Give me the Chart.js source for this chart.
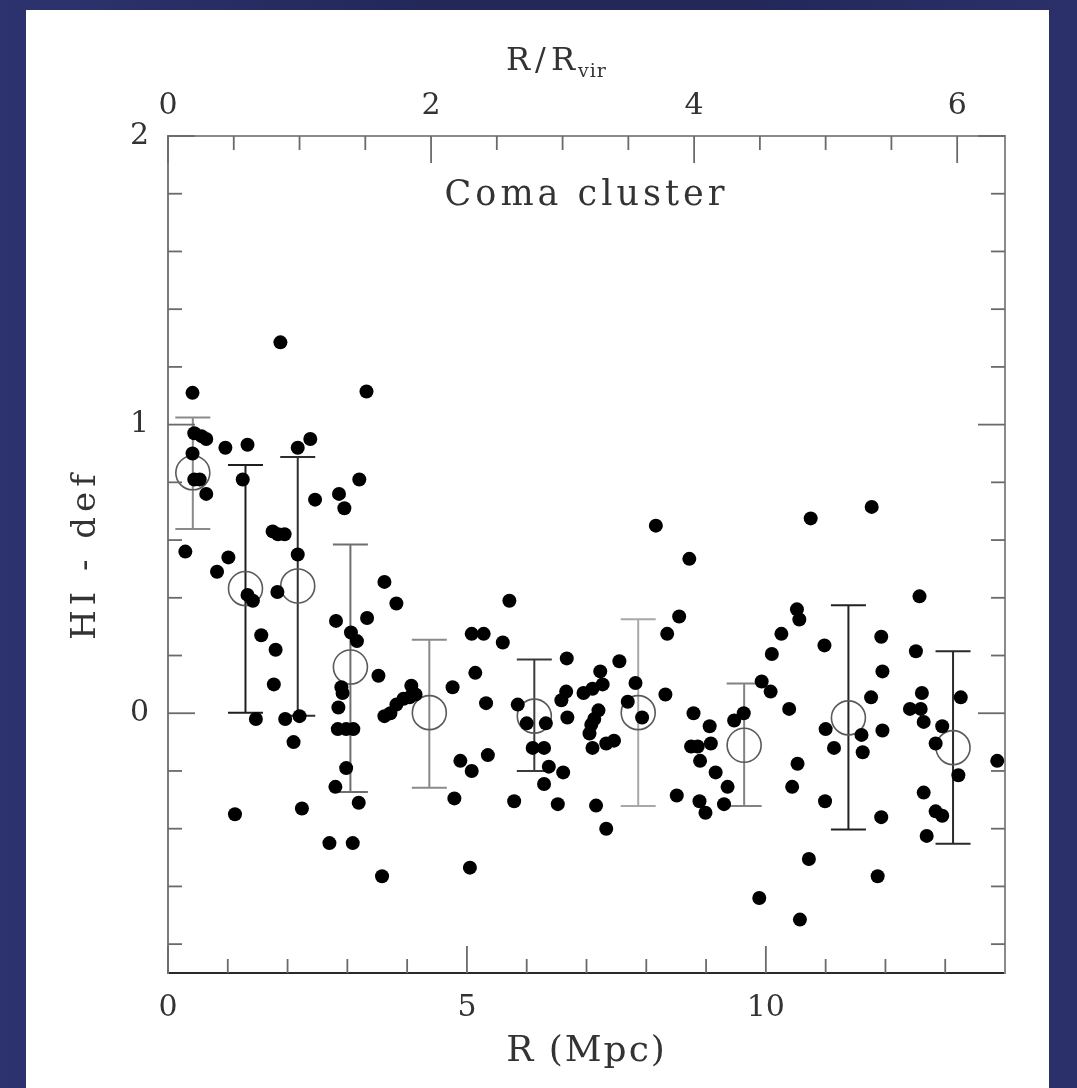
<!DOCTYPE html>
<html>
<head>
<meta charset="utf-8">
<title>Coma cluster HI deficiency</title>
<script src="https://cdn.jsdelivr.net/npm/chart.js@4.4.1/dist/chart.umd.min.js"></script>
<style>
html,body{margin:0;padding:0;width:1077px;height:1088px;overflow:hidden;}
body{background:linear-gradient(90deg,#2d336e 0%,#232859 40%,#232859 70%,#2b306a 100%);}
#panel{position:absolute;left:26px;top:10px;width:1023px;height:1078px;background:#fff;}
#wrap{position:absolute;left:0;top:0;width:1077px;height:1088px;}
</style>
</head>
<body>
<div id="panel"></div>
<div id="wrap"><canvas id="hiChart" width="1077" height="1088"></canvas></div>
<script>

// individual galaxies: projected distance (Mpc) and HI deficiency
const galR = [0.41,0.44,0.56,0.64,0.41,0.44,0.53,0.64,0.29,0.96,
1.33,1.25,1.75,1.84,1.95,1.01,0.82,2.17,1.33,1.42,
1.83,1.56,1.80,1.77,1.47,1.96,2.20,2.10,1.12,2.17,
2.38,2.46,2.86,2.95,3.20,2.81,3.33,3.06,3.16,3.52,
2.90,2.92,2.85,2.84,2.98,3.10,2.98,2.80,3.19,2.70,
3.09,2.24,3.58,3.62,3.82,1.88,3.32,3.62,3.72,3.82,
3.94,4.04,4.14,4.07,4.76,5.14,5.32,4.89,5.08,5.35,
4.79,5.05,5.79,5.85,6.00,6.32,6.10,6.29,6.37,6.29,
6.61,6.52,6.67,6.66,6.58,6.68,7.23,7.55,6.95,7.10,
7.27,7.20,7.13,7.08,7.05,7.10,7.33,7.46,7.16,7.33,
7.69,5.71,5.08,5.28,5.60,8.16,8.72,8.55,8.35,10.75,
10.52,10.56,10.26,10.10,11.77,10.98,11.93,12.57,12.51,7.82,
8.32,7.93,8.79,9.06,8.75,8.86,9.08,8.90,9.16,9.36,
8.51,8.89,8.99,9.30,9.47,9.63,9.93,10.08,10.39,10.53,
10.44,10.72,9.89,10.57,11.95,11.76,11.00,11.60,11.95,11.14,
11.62,10.99,11.93,11.87,12.61,12.41,12.59,12.64,12.95,12.84,
13.26,13.22,12.64,12.84,12.95,12.69,13.87];

const galDef = [1.11,0.97,0.96,0.95,0.90,0.81,0.81,0.76,0.56,0.92,
0.93,0.81,0.63,0.62,0.62,0.54,0.49,0.55,0.41,0.39,
0.42,0.27,0.22,0.10,-0.02,-0.02,-0.01,-0.10,-0.35,0.92,
0.95,0.74,0.76,0.71,0.81,0.32,0.33,0.28,0.25,0.13,
0.09,0.07,0.02,-0.055,-0.055,-0.055,-0.19,-0.255,-0.31,-0.45,
-0.45,-0.33,-0.565,0.455,0.38,1.285,1.115,-0.01,0.00,0.03,
0.05,0.055,0.065,0.095,0.09,0.14,0.035,-0.165,-0.20,-0.145,
-0.295,-0.535,-0.305,0.03,-0.035,-0.035,-0.12,-0.12,-0.185,-0.245,
-0.205,-0.315,0.19,0.075,0.045,-0.015,0.145,0.18,0.07,0.085,
0.10,0.01,-0.02,-0.04,-0.07,-0.12,-0.105,-0.095,-0.32,-0.40,
0.04,0.39,0.275,0.275,0.245,0.65,0.535,0.335,0.275,0.675,
0.36,0.325,0.275,0.205,0.715,0.235,0.265,0.405,0.215,0.105,
0.065,-0.015,0.00,-0.045,-0.115,-0.115,-0.105,-0.165,-0.205,-0.255,
-0.285,-0.305,-0.345,-0.315,-0.025,0.00,0.11,0.075,0.015,-0.175,
-0.255,-0.505,-0.64,-0.715,0.145,0.055,-0.055,-0.075,-0.06,-0.12,
-0.135,-0.305,-0.36,-0.565,0.07,0.015,0.015,-0.03,-0.045,-0.105,
0.055,-0.215,-0.275,-0.34,-0.355,-0.425,-0.165];

// binned means with their spread
const binR    = [0.415,1.296,2.17,3.051,4.371,6.127,7.865,9.637,11.381,13.131];
const binMean = [0.833,0.432,0.441,0.160,0.002,-0.010,0.002,-0.111,-0.016,-0.119];
const binLo   = [0.638,0.002,-0.009,-0.273,-0.258,-0.200,-0.321,-0.321,-0.403,-0.452];
const binHi   = [1.025,0.860,0.888,0.585,0.255,0.186,0.326,0.103,0.374,0.215];

// axes
const RVIR = 2.2;           // Mpc, for the top R/Rvir scale
const xTicks = [0,5,10];
const xMinor = [1,2,3,4,6,7,8,9,11,12,13];
const topTicks = [0,2,4,6];
const topMinor = [0.5,1,1.5,2.5,3,3.5,4.5,5,5.5];
const yTicks = [0,1,2];
const yMinor = [-0.8,-0.6,-0.4,-0.2,0.2,0.4,0.6,0.8,1.2,1.4,1.6,1.8];

const barColors = ['#8a8a8a','#1e1e1e','#2e2e2e','#6e6e6e','#8a8a8a','#3a3a3a','#a8a8a8','#828282','#222222','#2a2a2a'];

const SERIF = "'DejaVu Serif', 'Liberation Serif', serif";
const INK = '#333';

let datasets = [];

datasets.push({
  label:'galaxies',
  data: galR.map((r,i)=>({x:r, y:galDef[i]})),
  pointRadius:7,
  pointBackgroundColor:'#000',
  pointBorderWidth:0,
  order:0
});

datasets.push({
  label:'mean',
  data: binR.map((r,i)=>({x:r, y:binMean[i]})),
  pointRadius:17,
  pointBackgroundColor:'rgba(0,0,0,0)',
  pointBorderColor:'#5a5a5a',
  pointBorderWidth:1.6,
  order:1
});

for(let i=0;i<binR.length;i++){
  datasets.push({
    label:'bar'+i,
    data:[{x:binR[i], y:binLo[i]},{x:binR[i], y:binHi[i]}],
    showLine:true,
    borderColor:barColors[i],
    borderWidth:2,
    pointStyle:'line',
    pointRadius:17.5,
    pointBorderColor:barColors[i],
    pointBorderWidth:2,
    order:2
  });
}

function fixTicks(list){
  return function(scale){ scale.ticks = list.map(v=>({value:v})); };
}

/* inward tick marks and the text inside / around the frame */
const frameDecor = {
  id:'frameDecor',
  afterDraw(chart){
    let ctx = chart.ctx;
    let a = chart.chartArea;
    let sx = chart.scales.x, sx2 = chart.scales.x2, sy = chart.scales.y;
    let MINOR = 14, MAJOR = 27;

    ctx.save();
    ctx.strokeStyle = '#6a6a6a';
    ctx.lineWidth = 1.8;
    function seg(x1,y1,x2,y2){ ctx.beginPath(); ctx.moveTo(x1,y1); ctx.lineTo(x2,y2); ctx.stroke(); }

    xMinor.forEach(v=>{ let p = sx.getPixelForValue(v); seg(p,a.bottom,p,a.bottom-MINOR); });
    xTicks.forEach(v=>{ let p = sx.getPixelForValue(v); seg(p,a.bottom,p,a.bottom-MAJOR); });
    topMinor.forEach(v=>{ let p = sx2.getPixelForValue(v); seg(p,a.top,p,a.top+MINOR); });
    topTicks.forEach(v=>{ let p = sx2.getPixelForValue(v); seg(p,a.top,p,a.top+MAJOR); });
    yMinor.forEach(v=>{
      let p = sy.getPixelForValue(v);
      seg(a.left,p,a.left+MINOR,p);
      seg(a.right,p,a.right-MINOR,p);
    });
    yTicks.forEach(v=>{
      let p = sy.getPixelForValue(v);
      seg(a.left,p,a.left+MAJOR,p);
      seg(a.right,p,a.right-MAJOR,p);
    });

    ctx.fillStyle = INK;

    // inner label
    ctx.font = '35px ' + SERIF;
    ctx.letterSpacing = '4px';
    ctx.textAlign = 'center';
    ctx.textBaseline = 'middle';
    ctx.fillText('Coma cluster', (a.left+a.right)/2, 196);

    // bottom title
    ctx.font = '36px ' + SERIF;
    ctx.letterSpacing = '2px';
    ctx.fillText('R (Mpc)', (a.left+a.right)/2, 1052);

    // left title
    ctx.save();
    ctx.translate(86, (a.top+a.bottom)/2);
    ctx.rotate(-Math.PI/2);
    ctx.font = '34px ' + SERIF;
    ctx.letterSpacing = '5px';
    ctx.fillText('HI - def', 0, 0);
    ctx.restore();

    // top title with subscript
    ctx.textAlign = 'left';
    ctx.textBaseline = 'alphabetic';
    ctx.font = '32px ' + SERIF;
    ctx.letterSpacing = '5px';
    ctx.fillText('R/R', 506, 70);
    let w = ctx.measureText('R/R').width;
    ctx.font = '19px ' + SERIF;
    ctx.letterSpacing = '1px';
    ctx.fillText('vir', 506 + w - 2, 77);

    ctx.restore();
  }
};

const tickFont = {family:SERIF, size:30};

let chart = new Chart(document.getElementById('hiChart'),{
  type:'scatter',
  data:{datasets:datasets},
  options:{
    responsive:false,
    animation:false,
    events:[],
    layout:{padding:0},
    plugins:{legend:{display:false}, tooltip:{enabled:false}},
    scales:{
      x:{
        type:'linear', position:'bottom', min:0, max:14,
        afterBuildTicks:fixTicks(xTicks),
        afterFit:s=>{ s.height = 115; },
        grid:{display:false, drawTicks:false},
        border:{display:true, color:'#2a2a2a', width:2},
        ticks:{padding:17, color:INK, font:tickFont, maxRotation:0, autoSkip:false, callback:v=>String(v)}
      },
      x2:{
        type:'linear', position:'top', min:0, max:14/RVIR,
        afterBuildTicks:fixTicks(topTicks),
        afterFit:s=>{ s.height = 136; },
        grid:{display:false, drawTicks:false},
        border:{display:true, color:'#8a8a8a', width:2},
        ticks:{padding:12, color:INK, font:tickFont, maxRotation:0, autoSkip:false, callback:v=>String(v)}
      },
      y:{
        type:'linear', position:'left', min:-0.9, max:2,
        afterBuildTicks:fixTicks(yTicks),
        afterFit:s=>{ s.width = 168; },
        grid:{display:false, drawTicks:false},
        border:{display:true, color:'#7a7a7a', width:2},
        ticks:{padding:19, color:INK, font:tickFont, autoSkip:false, callback:v=>String(v)}
      },
      y2:{
        type:'linear', position:'right', min:-0.9, max:2,
        afterFit:s=>{ s.width = 72; },
        grid:{display:false, drawTicks:false},
        border:{display:true, color:'#8a8a8a', width:2},
        ticks:{display:false}
      }
    }
  },
  plugins:[frameDecor]
});

</script>
</body>
</html>
